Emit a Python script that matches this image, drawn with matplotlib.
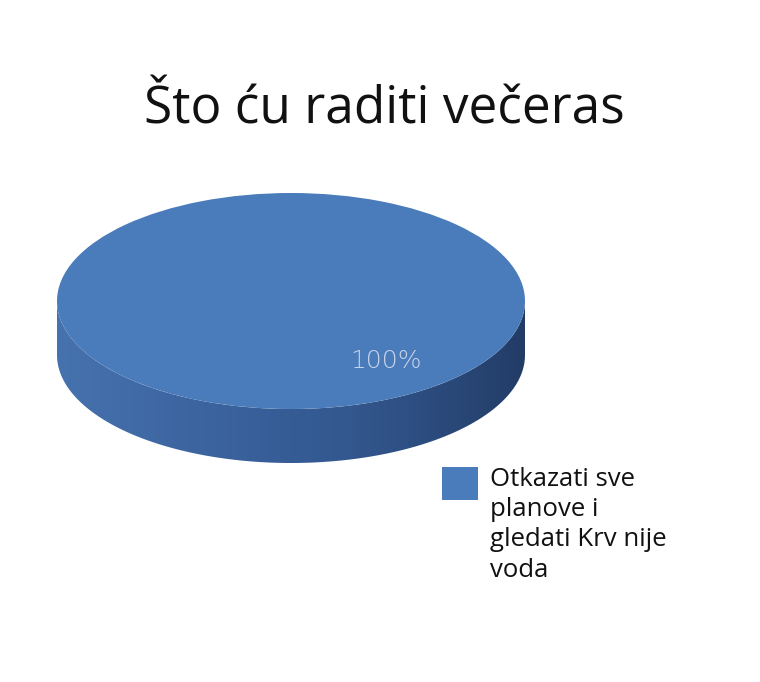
import numpy as np
import matplotlib
matplotlib.use("Agg")
import matplotlib.pyplot as plt
from matplotlib.path import Path
from matplotlib.patches import PathPatch, Patch

title = "Što ću raditi večeras"
categories = ["Otkazati sve\nplanove i\ngledati Krv nije\nvoda"]
values = [100]

TOP = "#4a7bba"
W, H = 760, 682
fig = plt.figure(figsize=(W / 100, H / 100), dpi=100)
fig.patch.set_facecolor("white")

# axes holding the pie: top ellipse spans x 57..525, y 193..409; side down to 463
x0, x1 = 57, 525
ytop, ymid_bot, ybot = 193, 409, 463
ry_px = (ymid_bot - ytop) / 2
depth = (ybot - ymid_bot) / ry_px
ax = fig.add_axes([x0 / W, 1 - ybot / H, (x1 - x0) / W, (ybot - ytop) / H])
ax.axis("off")

wedges, texts, autotexts = ax.pie(values, colors=[TOP], startangle=126,
                                  autopct="%d%%", pctdistance=0.69,
                                  radius=1, center=(0, 0),
                                  textprops=dict(color="#c9d5ea", fontsize=18,
                                                 family="DejaVu Sans"),
                                  wedgeprops=dict(linewidth=0))
ax.set_aspect("auto")
for w in wedges:
    w.set_zorder(3)
for t in autotexts:
    t.set_zorder(4)
    t.set_fontweight("light")

# side band of the 3D disc
t = np.linspace(np.pi, 2 * np.pi, 200)
upper = np.column_stack([np.cos(t), np.sin(t)])
lower = np.column_stack([np.cos(t[::-1]), np.sin(t[::-1]) - depth])
verts = np.vstack([upper, lower, upper[:1]])
codes = [Path.MOVETO] + [Path.LINETO] * (len(verts) - 2) + [Path.CLOSEPOLY]
side = PathPatch(Path(verts, codes), facecolor="none", edgecolor="none", zorder=2)
ax.add_patch(side)
xs = np.linspace(-1, 1, 300)
c_left = np.array([0x46, 0x72, 0xae]) / 255
c_mid = np.array([0x36, 0x5c, 0x96]) / 255
c_right = np.array([0x22, 0x3c, 0x66]) / 255
fr = (xs + 1) / 2
grad = np.where(fr[:, None] < 0.5,
                c_left + (c_mid - c_left) * (fr[:, None] / 0.5),
                c_mid + (c_right - c_mid) * ((fr[:, None] - 0.5) / 0.5) ** 1.3)
img = ax.imshow(grad[None, :, :], extent=(-1, 1, -1 - depth, 0), aspect="auto",
                zorder=2, interpolation="bilinear")
img.set_clip_path(side)
ax.set_xlim(-1, 1)
ax.set_ylim(-1 - depth, 1)

# title
fig.text(384 / W, 1 - 123 / H, title, ha="center", va="baseline",
         fontsize=37, family="Open Sans", color="#111111")

# legend
handles = [Patch(facecolor=TOP, edgecolor="none")]
leg = fig.legend(handles, categories, loc="upper left",
                 bbox_to_anchor=(437 / W, 1 - 462 / H), frameon=False,
                 prop=dict(family="Open Sans", size=18.5),
                 handlelength=1.4, handleheight=1.6, handletextpad=0.45,
                 labelspacing=0.2, borderpad=0.2, borderaxespad=0)
for txt in leg.get_texts():
    txt.set_linespacing(1.27)
    txt.set_color("#111111")
for col in leg._legend_handle_box.get_children():
    for hp in col.get_children():
        hp.align = "top"

fig.savefig("out.png", dpi=100, facecolor="white")
